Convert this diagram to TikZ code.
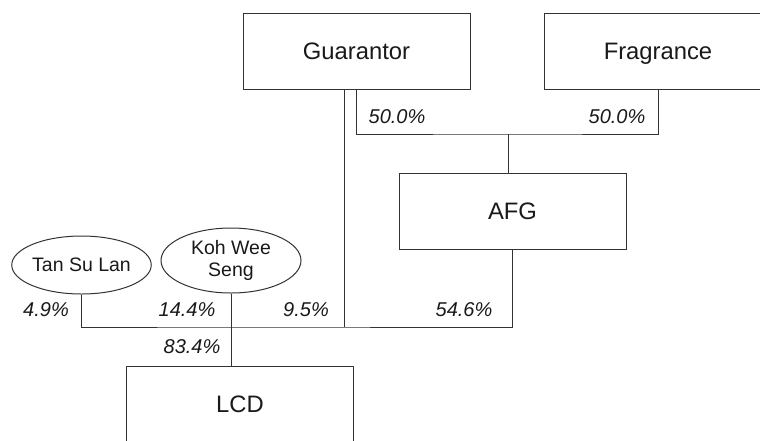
\documentclass[tikz,border=0pt]{standalone}
\usepackage{fontspec}
\setmainfont{Liberation Sans}
\usetikzlibrary{shapes.geometric}
\begin{document}
\begin{tikzpicture}[x=1pt,y=-1pt]
		\tikzstyle{comp}=[rectangle,draw=black!80,line width=1pt,minimum width=227pt,minimum height=76pt,inner sep=0,text depth=0pt,font=\fontsize{23.8}{28}\selectfont,text=black!90]
		\tikzstyle{holder}=[ellipse,draw=black!80,line width=1pt,inner sep=0,align=center,font=\fontsize{19.5}{22}\selectfont,text=black!90]
		\tikzstyle{pct}=[inner sep=0,font=\itshape\fontsize{20}{24}\selectfont,text=black!90]
		\tikzstyle{edge}=[draw=black!80,line width=1pt]
		
		\clip (0,0) rectangle (760,440);
		
		\node [comp] (guar) at (356.5, 51) {Guarantor};
		\node [comp] (frag) at (658, 51)   {Fragrance};
		\node [comp] (afg)  at (512.5, 211) {AFG};
		\node [comp] (lcd)  at (240, 404)  {LCD};
		
		\node [holder,minimum width=139pt,minimum height=58pt] (tan) at (81.5, 265)  {Tan Su Lan};
		\node [holder,minimum width=140pt,minimum height=65pt] (koh) at (231, 260.5) {Koh Wee\\Seng};
		
		\coordinate (top) at (508, 134);
		\coordinate (bus) at (231, 327);
		
		\draw[edge] (guar.south) |- (top) -| (frag.south);
		\draw[edge] (top) -- (top |- afg.north);
		\draw[edge] (tan.south) |- (bus) -| (afg.south);
		\draw[edge] ([xshift=-12.5pt]guar.south) -- ([xshift=-12.5pt]guar.south |- bus);
		\draw[edge] (koh.south) -- (koh.south |- lcd.north);
		
		\node [pct] (p1) at (397, 117) {50.0\%};
		\node [pct] (p2) at (617, 117) {50.0\%};
		\node [pct] (p3) at (46, 310)  {4.9\%};
		\node [pct] (p4) at (187, 310) {14.4\%};
		\node [pct] (p5) at (306, 310) {9.5\%};
		\node [pct] (p6) at (464, 310) {54.6\%};
		\node [pct] (p7) at (192, 347) {83.4\%};
	\end{tikzpicture}
\end{document}
